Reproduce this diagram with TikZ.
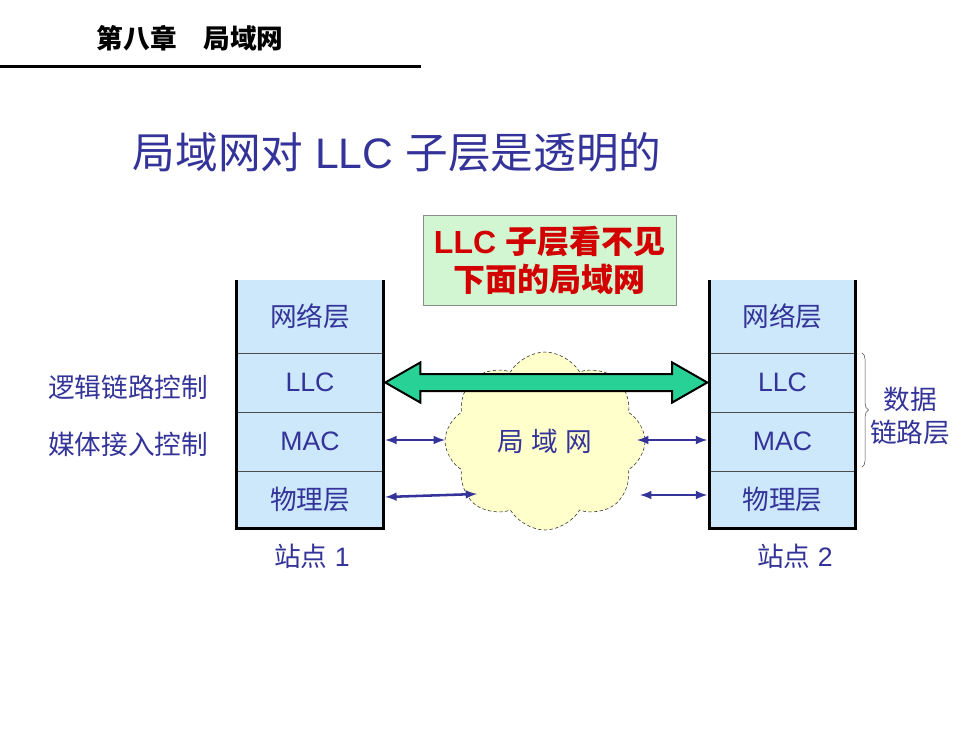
\documentclass[tikz,border=0pt]{standalone}
\usepackage{fontspec}
\setmainfont{Liberation Sans}
\newfontfamily\cjk{Noto Sans CJK SC}
\usepackage{tikz}
\usetikzlibrary{shapes.symbols, arrows, calc, decorations.pathreplacing}
\definecolor{navy}{RGB}{51,51,153}
\definecolor{layerblue}{RGB}{204,232,250}
\definecolor{notegreen}{RGB}{210,245,210}
\definecolor{pipegreen}{RGB}{40,210,150}
\definecolor{lanyellow}{RGB}{255,255,204}
\definecolor{notered}{RGB}{210,0,0}

\begin{document}
\begin{tikzpicture}[x=0.75pt, y=-0.75pt,
	layer/.style={rectangle, fill=layerblue, inner sep=0pt, minimum width=146*0.75pt, text=navy, font=\fontsize{20}{24}\selectfont},
	sidetext/.style={text=navy, font=\fontsize{20}{24}\selectfont},
	link/.style={<->, >=latex, draw=navy, line width=1.9pt}]
			
			\def \u {0.75pt} % one pixel of the slide
			\useasboundingbox (0,0) rectangle (980,735);
			
			% chapter head
			\node[anchor=west, font=\bfseries\fontsize{20}{24}\selectfont] (head) at (92,38) {\cjk 第八章　局域网};
			\coordinate (rule-l) at (0,67);
			\coordinate (rule-r) at (421,67);
			\draw[line width=2.25pt] (rule-l) -- (rule-r);
			
			\node[anchor=west, text=navy, font=\fontsize{32}{38}\selectfont] (title) at (128,152) {{\cjk 局域网对} LLC {\cjk 子层是透明的}};
			
			% the two stations
			\foreach \st/\x/\num/\lx in {l/310/1/312, r/782.5/2/795}
			{
				\foreach \ly/\y/\h/\txt in {net/316.5/73/\cjk 网络层, llc/382.5/59/LLC, mac/441.5/59/MAC, phy/499.5/57/\cjk 物理层}
				{
					\node[layer, minimum height=\h*\u] (\st-\ly) at (\x,\y) {\txt};
				}
				\draw[black!70] (\st-net.south west) -- (\st-net.south east);
				\draw[black!70] (\st-llc.south west) -- (\st-llc.south east);
				\draw[black!70] (\st-mac.south west) -- (\st-mac.south east);
				\draw[line width=2.25pt] (\st-net.north west) -- (\st-phy.south west) -- (\st-phy.south east) -- (\st-net.north east);
				\node[sidetext] (\st-name) at (\lx,556) {{\cjk 站点} \num};
			}
			
			\node[sidetext, anchor=east] (llc-role) at ($(l-llc.west)+(-24,5)$) {\cjk 逻辑链路控制};
			\node[sidetext, anchor=east] (mac-role) at ($(l-mac.west)+(-24,3)$) {\cjk 媒体接入控制};
			
			% the LAN cloud
			\node[cloud, cloud puffs=8, cloud puff arc=120, aspect=1.1, draw=black!85, dash pattern=on 2.5pt off 1.8pt, fill=lanyellow, minimum width=200*\u, minimum height=178*\u, sidetext] (lan) at (545,441) {{\cjk 局} {\cjk 域} {\cjk 网}};
			
			\draw[line width=1.5pt, line join=miter, fill=pipegreen] ($(l-llc.east)+(2,0)$) -- ++(35,-20) -- ++(0,11.5) -- ($(r-llc.west)+(-37,-8.5)$) -- ++(0,-11.5) -- ($(r-llc.west)+(-2,0)$) -- ++(-35,20) -- ++(0,-11.5) -- ($(l-llc.east)+(37,8.5)$) -- ++(0,11.5) -- cycle;
			
			\coordinate (lan-mac-l) at (445,440);
			\coordinate (lan-mac-r) at (637,440);
			\coordinate (lan-phy-l) at (477,494);
			\coordinate (lan-phy-r) at (640,495);
			\draw[link] ($(l-mac.east)+(2,-1.5)$) -- (lan-mac-l);
			\draw[link] (lan-mac-r) -- ($(r-mac.west)+(-2,-1.5)$);
			\draw[link] ($(l-phy.east)+(2,-2.5)$) -- (lan-phy-l);
			\draw[link] (lan-phy-r) -- ($(r-phy.west)+(-2,-4.5)$);
			
			% data link layer brace
			\draw[black!70, decorate, decoration={brace, amplitude=5pt}] ($(r-llc.north east)+(6,0)$) -- ($(r-mac.south east)+(6,-4)$);
			\node[sidetext, align=center, font=\fontsize{20}{24.75}\selectfont] (dll) at (910,416) {{\cjk 数据}\\{\cjk 链路层}};
			
			\node[draw=black!45, fill=notegreen, minimum width=253*\u, minimum height=90*\u, align=center, text=notered, font=\bfseries\fontsize{24}{28.5}\selectfont] (note) at (549.5,260) {LLC {\cjk 子层看不见}\\{\cjk 下面的局域网}};
			\end{tikzpicture}
\end{document}
